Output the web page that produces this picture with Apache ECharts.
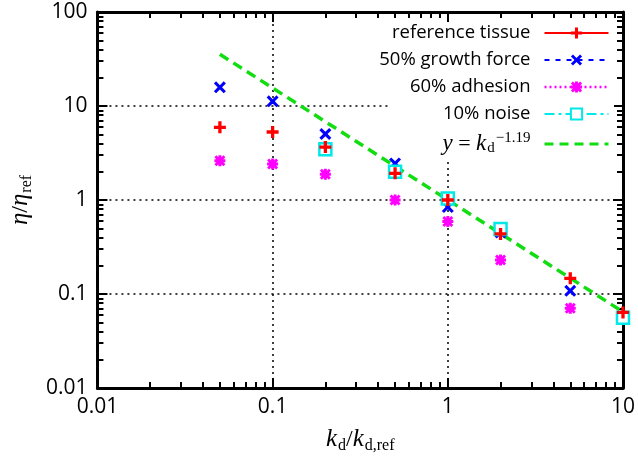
<!DOCTYPE html>
<html><head><meta charset="utf-8">
<script src="https://cdn.jsdelivr.net/npm/echarts@6/dist/echarts.min.js"></script>
<style>html,body{margin:0;padding:0;background:#fff}#c{width:638px;height:462px}</style>
</head><body><div id="c"></div>
<script>
// ---- data ----
const kdRef = [0.05, 0.1, 0.2, 0.5, 1, 2, 5, 10];
const referenceTissue = [5.93, 5.29, 3.66, 1.92, 1.0, 0.435, 0.147, 0.0637];
const kdGrowth = [0.05, 0.1, 0.2, 0.5, 1, 2, 5];
const growthForce50 = [15.8, 11.2, 5.04, 2.45, 0.84, 0.45, 0.108];
const kdAdhesion = [0.05, 0.1, 0.2, 0.5, 1, 2, 5];
const adhesion60 = [2.62, 2.41, 1.88, 1.0, 0.59, 0.23, 0.0704];
const kdNoise = [0.2, 0.5, 1, 2, 10];
const noise10 = [3.46, 2.0, 1.04, 0.49, 0.056];
const kdFit = [0.05, 10];
const fitValues = [35.5, 0.0646];
const xTickLabels = ['0.01', '0.1', '1', '10'];
const yTickLabels = ['0.01', '0.1', '1', '10', '100'];
const seriesNames = ['reference tissue', '50% growth force', '60% adhesion', '10% noise', 'fit'];

// ---- helpers ----
const X_MIN = 0.01, X_MAX = 10, Y_MIN = 0.01, Y_MAX = 100;
function minorValues(lo, hi) {
  const out = [];
  for (let d = lo; d < hi * 0.999; d *= 10) {
    for (let m = 2; m <= 9; m++) out.push(+(d * m).toPrecision(6));
  }
  return out;
}
function majorValues(list) { return list.map(Number); }
function labelFor(list) {
  return function (v) {
    const f = list.find(s => Math.abs(Math.log10(+s) - Math.log10(v)) < 1e-6);
    return f || '';
  };
}
function pairs(xs, ys) { return xs.map((x, i) => [x, ys[i]]); }

const SANS = 'Open Sans';
const SERIF = 'Liberation Serif';
const mathRich = {
  i: { fontFamily: SERIF, fontStyle: 'italic', fontSize: 25, color: '#000', verticalAlign: 'middle' },
  n: { fontFamily: SERIF, fontSize: 24, color: '#000', verticalAlign: 'middle' },
  s: { fontFamily: SERIF, fontSize: 16, color: '#000', verticalAlign: 'middle', padding: [13, 0, 0, 1] },
  p: { fontFamily: SERIF, fontSize: 16, color: '#000', verticalAlign: 'middle', padding: [0, 0, 15, 1] }
};
const legendRich = {
  i: { fontFamily: SERIF, fontStyle: 'italic', fontSize: 23, color: '#000', verticalAlign: 'middle' },
  n: { fontFamily: SERIF, fontSize: 22, color: '#000', verticalAlign: 'middle' },
  s: { fontFamily: SERIF, fontSize: 15, color: '#000', verticalAlign: 'middle', padding: [9, 0, 0, 1] },
  p: { fontFamily: SERIF, fontSize: 15, color: '#000', verticalAlign: 'middle', padding: [0, 0, 11, 1] }
};

const PLUS = 'path://M4,0H7V4H11V7H7V11H4V7H0V4H4Z';
const CROSS = 'path://M0,2L2,0L5.5,3.5L9,0L11,2L7.5,5.5L11,9L9,11L5.5,7.5L2,11L0,9L3.5,5.5Z';
const STAR = 'path://M4,0H7V4H11V7H7V11H4V7H0V4H4Z M0,2L2,0L11,9L9,11Z M9,0L11,2L2,11L0,9Z';

const RED = '#ff0000', BLUE = '#0000ff', MAGENTA = '#ff00ff', CYAN = '#00e8e8', GREEN = '#11dd11';

const frameLine = { show: true, onZero: false, lineStyle: { color: '#000', width: 3 } };
function majorAxis(extra, ticks) {
  return Object.assign({
    type: 'log', logBase: 10,
    axisLine: frameLine,
    axisTick: { show: true, inside: true, length: 10, customValues: majorValues(ticks), lineStyle: { color: '#000', width: 2 } },
    minorTick: { show: false },
    splitLine: { show: false },
    axisLabel: { show: false }
  }, extra);
}
function minorAxis(extra, lo, hi) {
  return Object.assign({
    type: 'log', logBase: 10,
    axisLine: { show: false },
    axisTick: { show: true, inside: true, length: 6, customValues: minorValues(lo, hi), lineStyle: { color: '#000', width: 2 } },
    splitLine: { show: false },
    axisLabel: { show: false }
  }, extra);
}
const gridDots = { show: true, lineStyle: { color: '#000', width: 1.5, type: [2, 4] } };

const option = {
  animation: false,
  backgroundColor: '#fff',
  grid: { left: 93, right: 12, top: 12, bottom: 74, containLabel: false },
  xAxis: [
    majorAxis({
      position: 'bottom', min: X_MIN, max: X_MAX,
      splitLine: gridDots,
      axisLabel: { show: true, margin: 9, fontFamily: SANS, fontSize: 21, color: '#000', formatter: labelFor(xTickLabels) },
      name: '{i|k}{s|d}{n|/}{i|k}{s|d,ref}',
      nameLocation: 'middle', nameGap: 37,
      nameTextStyle: { rich: mathRich }
    }, xTickLabels),
    minorAxis({ position: 'bottom', min: X_MIN, max: X_MAX }, X_MIN, X_MAX),
    majorAxis({ position: 'top', min: X_MIN, max: X_MAX }, xTickLabels),
    minorAxis({ position: 'top', min: X_MIN, max: X_MAX }, X_MIN, X_MAX)
  ],
  yAxis: [
    majorAxis({
      position: 'left', min: Y_MIN, max: Y_MAX,
      splitLine: gridDots,
      axisLabel: { show: true, margin: 10, fontFamily: SANS, fontSize: 21, color: '#000', formatter: labelFor(yTickLabels) },
      name: '{i|η}{n|/}{i|η}{s|ref}',
      nameLocation: 'middle', nameGap: 48, nameRotate: 90,
      nameTextStyle: { rich: mathRich }
    }, yTickLabels),
    minorAxis({ position: 'left', min: Y_MIN, max: Y_MAX }, Y_MIN, Y_MAX),
    majorAxis({ position: 'right', min: Y_MIN, max: Y_MAX }, yTickLabels),
    minorAxis({ position: 'right', min: Y_MIN, max: Y_MAX }, Y_MIN, Y_MAX)
  ],
  graphic: [{
    type: 'rect', z: 1, silent: true,
    shape: { x: 388, y: 22, width: 226, height: 140 },
    style: { fill: '#fff' }
  }],
  legend: {
    orient: 'vertical', align: 'right',
    right: 28, top: 23, padding: 0,
    itemWidth: 64, itemHeight: 14, itemGap: 7,
    selectedMode: false,
    textStyle: { fontFamily: SANS, fontSize: 18.5, color: '#000', lineHeight: 20, padding: [0, 9, 0, 0], rich: legendRich },
    formatter: function (name) {
      if (name === 'fit') return '{i|y}{n| = }{i|k}{s|d}{p|−1.19}';
      return name;
    },
    data: [
      { name: seriesNames[0], lineStyle: { color: RED, width: 2, type: 'solid', opacity: 1 } },
      { name: seriesNames[1], lineStyle: { color: BLUE, width: 2, type: [5, 6], opacity: 1 } },
      { name: seriesNames[2], lineStyle: { color: MAGENTA, width: 2.5, type: [2, 3], opacity: 1 } },
      { name: seriesNames[3], lineStyle: { color: CYAN, width: 2, type: [10, 4, 3, 4], opacity: 1 } },
      { name: seriesNames[4], lineStyle: { color: GREEN, width: 3, type: [9, 6], opacity: 1 }, itemStyle: { opacity: 0 } }
    ]
  },
  series: [
    {
      name: seriesNames[4], type: 'line', z: 2, symbol: 'none',
      data: pairs(kdFit, fitValues),
      lineStyle: { color: GREEN, width: 3.5, type: [10, 6] }, itemStyle: { color: GREEN }
    },
    {
      name: seriesNames[1], type: 'line', z: 3, symbol: CROSS, symbolSize: 12,
      data: pairs(kdGrowth, growthForce50),
      lineStyle: { opacity: 0 }, itemStyle: { color: BLUE }
    },
    {
      name: seriesNames[2], type: 'line', z: 3, symbol: STAR, symbolSize: 11,
      data: pairs(kdAdhesion, adhesion60),
      lineStyle: { opacity: 0 }, itemStyle: { color: MAGENTA }
    },
    {
      name: seriesNames[3], type: 'line', z: 4, symbol: 'rect', symbolSize: 12,
      data: pairs(kdNoise, noise10),
      lineStyle: { opacity: 0 }, itemStyle: { color: '#fff', borderColor: CYAN, borderWidth: 2.5 }
    },
    {
      name: seriesNames[0], type: 'line', z: 5, symbol: PLUS, symbolSize: 12,
      data: pairs(kdRef, referenceTissue),
      lineStyle: { opacity: 0 }, itemStyle: { color: RED }
    }
  ]
};
const chart = echarts.init(document.getElementById('c'), null, { renderer: 'canvas' });
chart.setOption(option);
</script></body></html>
